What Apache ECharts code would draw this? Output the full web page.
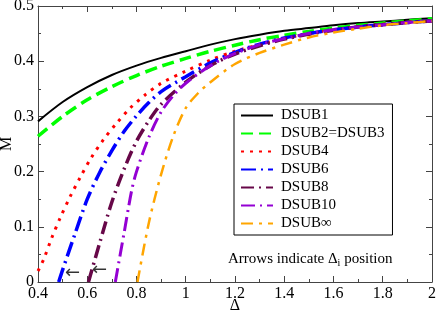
<!DOCTYPE html>
<html><head><meta charset="utf-8">
<script src="https://cdn.jsdelivr.net/npm/echarts@6/dist/echarts.min.js"></script>
<style>html,body{margin:0;padding:0;background:#fff}#c{width:436px;height:312px}</style>
</head><body><div id="c"></div>
<script>
// Data (Δ, M)
const x1 = [0.4,0.5,0.6,0.7,0.8,0.9,1.0,1.1,1.2,1.3,1.4,1.5,1.6,1.7,1.8,1.9,2.0];
const dsub1 = [0.291,0.326,0.353,0.375,0.392,0.406,0.418,0.430,0.440,0.448,0.455,0.460,0.465,0.469,0.472,0.475,0.478];
const dsub2 = [0.264,0.300,0.330,0.354,0.374,0.391,0.405,0.418,0.429,0.439,0.447,0.454,0.460,0.465,0.469,0.473,0.477];

const x4 = [0.4,0.423,0.455,0.49,0.531,0.572,0.616,0.666,0.718,0.774,0.835,0.9,1.0,1.1,1.2,1.3,1.4,1.5,1.6,1.7,1.8,1.9,2.0];
const dsub4 = [0.02,0.041,0.079,0.116,0.155,0.190,0.225,0.258,0.287,0.315,0.339,0.360,0.382,0.402,0.418,0.430,0.441,0.450,0.457,0.463,0.467,0.471,0.474];

const x6 = [0.484,0.5,0.55,0.6,0.65,0.7,0.75,0.8,0.85,0.9,1.0,1.1,1.2,1.3,1.4,1.5,1.6,1.7,1.8,1.9,2.0];
const dsub6 = [0,0.022,0.087,0.150,0.198,0.238,0.273,0.301,0.325,0.345,0.372,0.397,0.416,0.431,0.442,0.450,0.457,0.462,0.466,0.470,0.473];

const x8 = [0.605,0.65,0.7,0.75,0.8,0.85,0.9,1.0,1.1,1.2,1.3,1.4,1.5,1.6,1.7,1.8,1.9,2.0];
const dsub8 = [0,0.07,0.145,0.205,0.255,0.292,0.322,0.362,0.392,0.413,0.428,0.440,0.449,0.456,0.462,0.466,0.470,0.473];

const x10 = [0.714,0.75,0.78,0.8,0.85,0.9,0.95,1.0,1.1,1.2,1.3,1.4,1.5,1.6,1.7,1.8,1.9,2.0];
const dsub10 = [0,0.09,0.165,0.2,0.262,0.308,0.338,0.360,0.392,0.414,0.430,0.441,0.450,0.457,0.462,0.466,0.470,0.473];

const xInf = [0.804,0.85,0.9,0.95,1.0,1.05,1.1,1.2,1.3,1.4,1.5,1.6,1.7,1.8,1.9,2.0];
const dsubInf = [0,0.107,0.195,0.265,0.315,0.342,0.362,0.395,0.415,0.430,0.443,0.452,0.459,0.465,0.469,0.473];

const arrowX = [0.540, 0.650];
const arrowY = [0.016, 0.021];

const xTicks = [0.4,0.6,0.8,1,1.2,1.4,1.6,1.8,2];
const yTicks = [0,0.1,0.2,0.3,0.4,0.5];

const zip = (xs, ys) => xs.map((x,i)=>[x, ys[i]]);
const font = 'Liberation Serif';

const chart = echarts.init(document.getElementById('c'), null, {renderer:'canvas'});
function mk(name, xs, ys, color, width, dash){
  return {name, type:'line', data: zip(xs, ys), smooth:0.3, showSymbol:false, symbol:'none',
    lineStyle:{color, width, type: dash}, itemStyle:{color}, xAxisIndex:0, yAxisIndex:0, z:3};
}
const axisCommon = {
  axisLine:{show:true, onZero:false, lineStyle:{color:'#444', width:1}},
  axisTick:{show:true, inside:true, length:6, lineStyle:{color:'#444'}},
  minorTick:{show:true, splitNumber:2, length:3, lineStyle:{color:'#444'}},
  splitLine:{show:false}
};
chart.setOption({
  animation:false,
  grid:{left:38, right:4, top:6, bottom:30, containLabel:false, outerBoundsMode:'none'},
  xAxis:[
    Object.assign({type:'value', min:0.4, max:2, interval:0.2, position:'bottom',
      name:'Δ', nameLocation:'middle', nameGap:16, nameMoveOverlap:false,
      nameTextStyle:{fontFamily:font, fontSize:16, color:'#000'},
      axisLabel:{fontFamily:font, fontSize:16, color:'#000', margin:4,
        formatter:v=>{const t=xTicks.find(a=>Math.abs(a-v)<1e-6);return t===undefined?'':String(t);}}}, axisCommon),
    Object.assign({type:'value', min:0.4, max:2, interval:0.2, position:'top', axisLabel:{show:false}}, axisCommon)
  ],
  yAxis:[
    Object.assign({type:'value', min:0, max:0.5, interval:0.1, position:'left',
      name:'M', nameLocation:'middle', nameGap:23, nameMoveOverlap:false,
      nameTextStyle:{fontFamily:font, fontSize:16, color:'#000'},
      axisLabel:{fontFamily:font, fontSize:16, color:'#000', margin:4,
        formatter:v=>{const t=yTicks.find(a=>Math.abs(a-v)<1e-6);return t===undefined?'':String(t);}}}, axisCommon),
    Object.assign({type:'value', min:0, max:0.5, interval:0.1, position:'right', axisLabel:{show:false}}, axisCommon)
  ],
  legend:{
    orient:'vertical', left:234, top:104,
    backgroundColor:'#fff', borderColor:'#000', borderWidth:1, borderRadius:0,
    padding:[4,8,4,6], itemWidth:32, itemHeight:12, itemGap:3,
    itemStyle:{opacity:0},
    textStyle:{fontFamily:font, fontSize:15, color:'#000', padding:[0,0,0,3]},
    data:['DSUB1','DSUB2=DSUB3','DSUB4','DSUB6','DSUB8','DSUB10','DSUB∞']
  },
  title:{
    text:'Arrows indicate Δ{sub|i} position', left:223, top:245,
    textStyle:{fontFamily:font, fontSize:15, fontWeight:'normal', color:'#000',
      rich:{sub:{fontFamily:font, fontSize:10, padding:[8,0,0,0]}}}
  },
  series:[
    mk('DSUB1', x1, dsub1, '#000000', 2, 'solid'),
    mk('DSUB2=DSUB3', x1, dsub2, '#00ff00', 3.5, [12,6]),
    mk('DSUB4', x4, dsub4, '#ff0000', 3, [3,6]),
    mk('DSUB6', x6, dsub6, '#0000ff', 3.5, [15,5,2,5]),
    mk('DSUB8', x8, dsub8, '#670748', 3.5, [13,5,2,5]),
    mk('DSUB10', x10, dsub10, '#9400d3', 3, [14,5,2,5]),
    mk('DSUB∞', xInf, dsubInf, '#ffa500', 2.5, [12,6,3,6]),
    {type:'scatter', data: zip(arrowX, arrowY), symbolSize:1, itemStyle:{color:'rgba(0,0,0,0)'},
      label:{show:true, position:'inside', formatter:'←', fontFamily:'DejaVu Sans', fontSize:18, color:'#000'}, z:5}
  ]
});
</script></body></html>
